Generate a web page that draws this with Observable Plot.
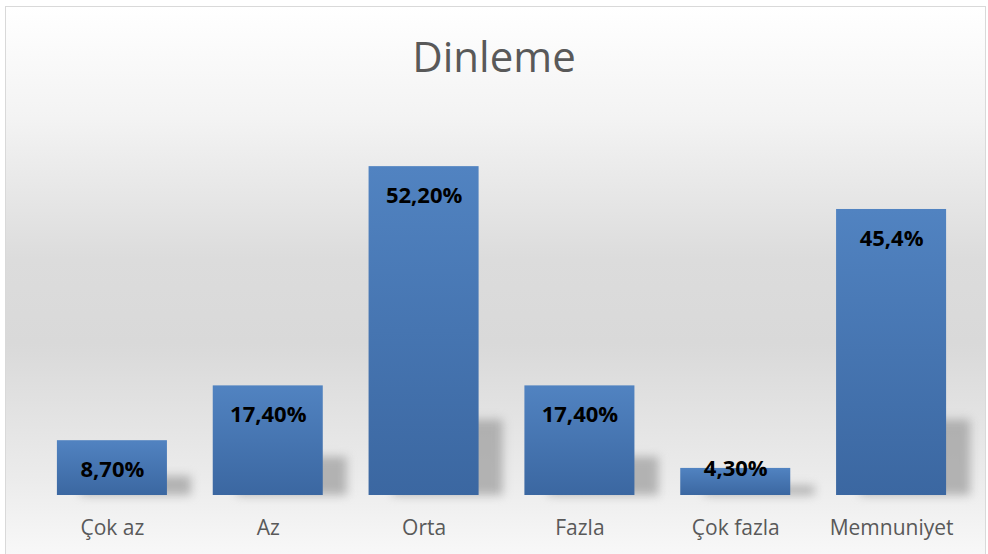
<!DOCTYPE html>
<html>
<head>
<meta charset="utf-8">
<script src="https://cdn.jsdelivr.net/npm/d3@7"></script>
<script src="https://cdn.jsdelivr.net/npm/@observablehq/plot@0.6"></script>
<style>
  html, body { margin: 0; padding: 0; background: #fff; }
  #wrap { position: relative; width: 988px; height: 554px; overflow: hidden; }
  #bg { position: absolute; left: 5px; top: 6px; width: 979px; height: 560px;
        border: 1.5px solid #d9d9d9;
        background: linear-gradient(to bottom, #ffffff 0%, #f3f3f3 20%, #dcdcdc 45%, #d9d9d9 60%, #ececec 85%, #fafafa 100%); }
  #title { position: absolute; left: 0; top: 0; width: 988px; height: 110px; line-height: 112px;
           text-align: center; font-family: "Open Sans", sans-serif; font-size: 42px; color: #595959; }
  #chart { position: absolute; left: 0; top: 110px; }
</style>
</head>
<body>
<div id="wrap">
  <div id="bg"></div>
  <div id="title">Dinleme</div>
  <div id="chart"></div>
</div>
<script>
const categories = ["Çok az", "Az", "Orta", "Fazla", "Çok fazla", "Memnuniyet"];
const values = [8.7, 17.4, 52.2, 17.4, 4.3, 45.4];
const valueLabels = ["8,70%", "17,40%", "52,20%", "17,40%", "4,30%", "45,4%"];

const data = categories.map((c, i) => ({category: c, value: values[i], label: valueLabels[i]}));

const plot = Plot.plot({
  width: 988,
  height: 444,
  marginLeft: 34,
  marginRight: 19,
  marginTop: 7,
  marginBottom: 59,
  style: {background: "transparent", overflow: "visible"},
  x: {domain: categories, paddingInner: 0.294, paddingOuter: 0.147, round: false, label: null,
      tickSize: 0, tickPadding: 25},
  y: {domain: [0, 60], axis: null},
  marks: [
    Plot.barY(data, {x: "category", y: d => Math.min(d.value * 0.35, 12), dx: 24,
      fill: "#9a9a9a", fillOpacity: 0.7}),
    Plot.barY(data, {x: "category", y: "value", fill: "url(#barGrad)"}),
    Plot.text(data.filter(d => d.value >= 8), {x: "category", y: "value", text: "label", dy: 29,
      fontSize: 22, fontWeight: "bold", fill: "#000", fontFamily: "Open Sans"}),
    Plot.text(data.filter(d => d.value < 8), {x: "category", y: "value", text: "label", dy: 1,
      fontSize: 22, fontWeight: "bold", fill: "#000", fontFamily: "Open Sans"})
  ]
});

const svg = d3.select(plot);
const defs = svg.insert("defs", ":first-child");
const g = defs.append("linearGradient").attr("id", "barGrad").attr("x1", 0).attr("y1", 0).attr("x2", 0).attr("y2", 1);
g.append("stop").attr("offset", "0%").attr("stop-color", "#5183c1");
g.append("stop").attr("offset", "100%").attr("stop-color", "#3b67a1");
svg.select('g[aria-label="bar"]').style("filter", "blur(5px)");
svg.selectAll('g[aria-label="x-axis tick label"] text, g[aria-label="x-axis tick label"]')
  .style("font-family", "'Open Sans', sans-serif").style("font-size", "21px").style("fill", "#595959");
svg.select('g[aria-label="x-axis tick label"]').attr("fill", "#595959");

document.getElementById("chart").appendChild(plot);
</script>
</body>
</html>
